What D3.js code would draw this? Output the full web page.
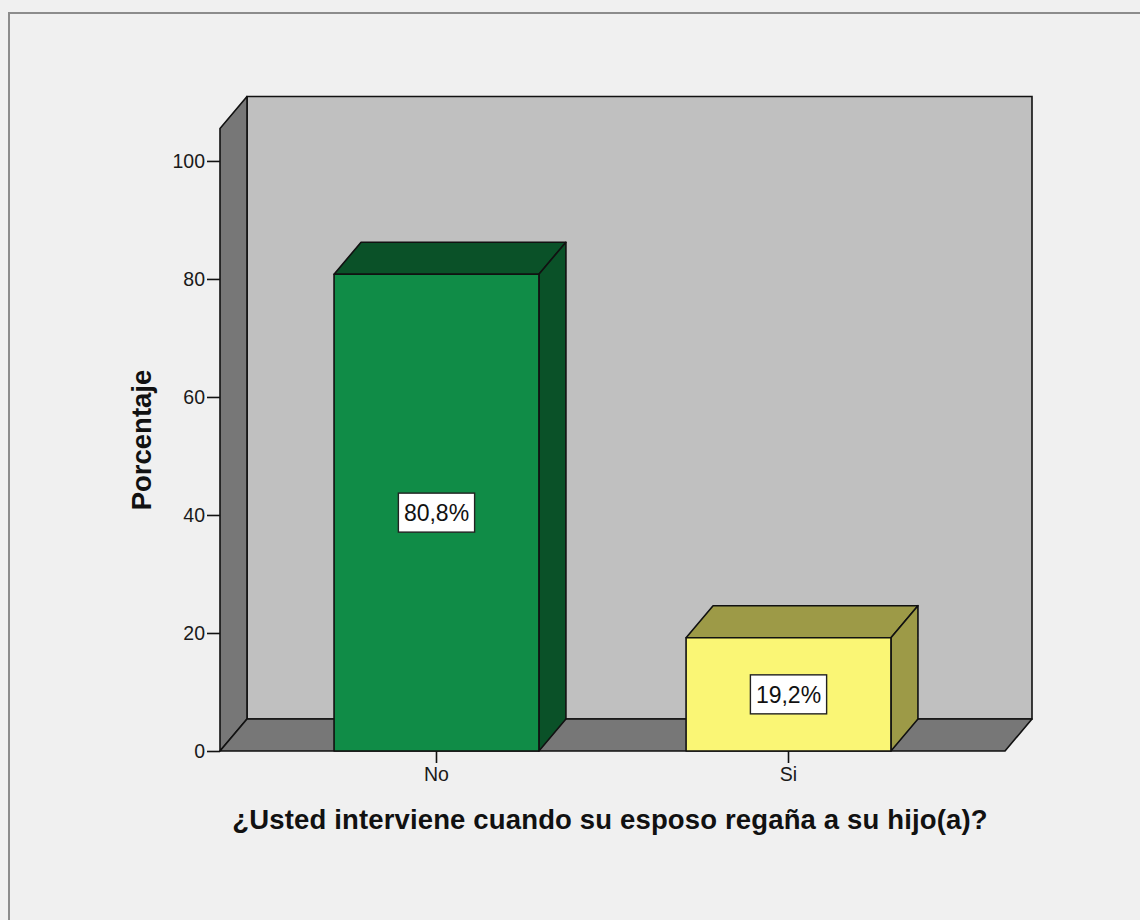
<!DOCTYPE html>
<html>
<head>
<meta charset="utf-8">
<script src="https://cdn.jsdelivr.net/npm/d3@7/dist/d3.min.js"></script>
<style>
  html, body { margin: 0; padding: 0; background: #f0f0f0; }
  svg { display: block; }
</style>
</head>
<body>
<svg id="chart" width="1140" height="920"></svg>
<script>
// ---- data ----
const categories = ["No", "Si"];
const values = [80.8, 19.2];
const valueLabels = ["80,8%", "19,2%"];
const yTicks = [0, 20, 40, 60, 80, 100];
const yTitle = "Porcentaje";
const xTitle = "¿Usted interviene cuando su esposo regaña a su hijo(a)?";

// ---- layout ----
const W = 1140, H = 920;
const plotLeft = 220, plotRight = 1005, plotBottom = 751, plotTop = 128.5;
const dx = 27, dy = -32;           // 3D depth offset
const yMax = 105.5;

const frontColors = ["#108c47", "#faf675"];
const shadeColors = ["#0a5128", "#9d9a47"];

const svg = d3.select("#chart");
svg.append("rect").attr("width", W).attr("height", H).attr("fill", "#f0f0f0");
// outer frame
svg.append("rect").attr("x", 9).attr("y", 13).attr("width", W + 20).attr("height", H + 20)
  .attr("fill", "none").attr("stroke", "#8c8c8c").attr("stroke-width", 2);

const x = d3.scaleBand().domain(categories).range([plotLeft, plotRight])
  .paddingInner(0.418).paddingOuter(0.324);
const y = d3.scaleLinear().domain([0, yMax]).range([plotBottom, plotTop]);

const poly = pts => "M" + pts.map(p => p.join(",")).join("L") + "Z";
const stroke = "#111";

// back wall
svg.append("path")
  .attr("d", poly([[plotLeft + dx, y(yMax) + dy], [plotRight + dx, y(yMax) + dy], [plotRight + dx, plotBottom + dy], [plotLeft + dx, plotBottom + dy]]))
  .attr("fill", "#c0c0c0").attr("stroke", stroke).attr("stroke-width", 1.6);
// left wall
svg.append("path")
  .attr("d", poly([[plotLeft, plotBottom], [plotLeft, y(yMax)], [plotLeft + dx, y(yMax) + dy], [plotLeft + dx, plotBottom + dy]]))
  .attr("fill", "#777777").attr("stroke", stroke).attr("stroke-width", 1.6).attr("stroke-linejoin", "round");
// floor
svg.append("path")
  .attr("d", poly([[plotLeft, plotBottom], [plotLeft + dx, plotBottom + dy], [plotRight + dx, plotBottom + dy], [plotRight, plotBottom]]))
  .attr("fill", "#777777").attr("stroke", stroke).attr("stroke-width", 1.6).attr("stroke-linejoin", "round");

// bars
const bars = svg.append("g");
categories.forEach((c, i) => {
  const x0 = x(c), x1 = x(c) + x.bandwidth();
  const yt = y(values[i]);
  const g = bars.append("g").attr("stroke", stroke).attr("stroke-width", 1.6).attr("stroke-linejoin", "round");
  g.append("path").attr("d", poly([[x0, yt], [x0 + dx, yt + dy], [x1 + dx, yt + dy], [x1, yt]]))
    .attr("fill", shadeColors[i]);
  g.append("path").attr("d", poly([[x1, yt], [x1 + dx, yt + dy], [x1 + dx, plotBottom + dy], [x1, plotBottom]]))
    .attr("fill", shadeColors[i]);
  g.append("rect").attr("x", x0).attr("y", yt).attr("width", x1 - x0).attr("height", plotBottom - yt)
    .attr("fill", frontColors[i]);
});

// value labels
categories.forEach((c, i) => {
  const cx = x(c) + x.bandwidth() / 2;
  const cy = (y(values[i]) + plotBottom) / 2;
  const g = svg.append("g");
  const t = g.append("text").attr("x", cx).attr("y", cy).attr("dy", "0.36em")
    .attr("text-anchor", "middle")
    .attr("font-family", "'Liberation Sans', Arial, sans-serif").attr("font-size", 23)
    .attr("fill", "#111").text(valueLabels[i]);
  const w = t.node().getComputedTextLength();
  g.insert("rect", "text").attr("x", cx - w / 2 - 5.5).attr("y", cy - 19.5)
    .attr("width", w + 11).attr("height", 39)
    .attr("fill", "#ffffff").attr("stroke", "#222").attr("stroke-width", 1.4);
});

// y axis
const yAxis = svg.append("g").attr("transform", `translate(${plotLeft},0)`)
  .call(d3.axisLeft(y).tickValues(yTicks).tickSize(13).tickPadding(2).tickFormat(d3.format("d")));
yAxis.select(".domain").remove();
yAxis.selectAll(".tick line").attr("stroke", "#111").attr("stroke-width", 1.6);
yAxis.selectAll(".tick text").attr("font-family", "'Liberation Sans', Arial, sans-serif")
  .attr("font-size", 19.5).attr("fill", "#1a1a1a");

// x axis
const xAxis = svg.append("g").attr("transform", `translate(0,${plotBottom})`)
  .call(d3.axisBottom(x).tickSize(12).tickPadding(4));
xAxis.select(".domain").remove();
xAxis.selectAll(".tick line").attr("stroke", "#111").attr("stroke-width", 1.6);
xAxis.selectAll(".tick text").attr("font-family", "'Liberation Sans', Arial, sans-serif")
  .attr("font-size", 19.5).attr("fill", "#1a1a1a");

// titles
svg.append("text").attr("transform", "translate(151,440) rotate(-90)")
  .attr("text-anchor", "middle").attr("font-family", "'Liberation Sans', Arial, sans-serif")
  .attr("font-weight", "bold").attr("font-size", 27.5).attr("fill", "#111").text(yTitle);
svg.append("text").attr("x", 610).attr("y", 829)
  .attr("text-anchor", "middle").attr("font-family", "'Liberation Sans', Arial, sans-serif")
  .attr("font-weight", "bold").attr("font-size", 27.5).attr("letter-spacing", 0.15)
  .attr("fill", "#111").text(xTitle);
</script>
</body>
</html>
